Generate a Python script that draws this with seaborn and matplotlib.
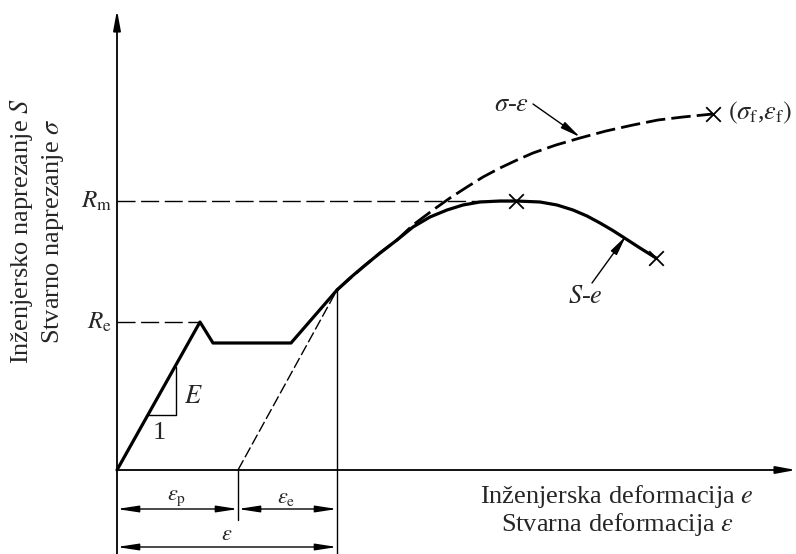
import numpy as np
import pandas as pd
import seaborn as sns
import matplotlib as mpl
from matplotlib import pyplot as plt

sns.set_style("white")
mpl.rcParams['font.family'] = ['Liberation Serif', 'DejaVu Serif']
mpl.rcParams['mathtext.fontset'] = 'stix'

# schematic values (arbitrary units, origin at the axis crossing)
elastic_x = [0, 83, 96, 174, 220]
elastic_y = [0, 148, 127, 127, 180]

# engineering curve S-e
eng_x = [220, 233, 246, 263, 280, 296, 313, 330, 346, 363, 383, 399,
         423, 440, 456, 470, 483, 495, 506, 523, 539]
eng_y = [180, 192, 203, 217, 230, 243, 253, 260, 265, 268, 269, 269,
         268, 265, 260, 254, 247, 240, 233, 222, 212]

# true curve sigma-epsilon
true_x = [220, 246, 263, 280, 296, 316, 333, 350, 366, 383, 400, 416,
          439, 463, 489, 516, 541, 566, 596]
true_y = [180, 203, 217, 230, 245, 260, 272, 283, 293, 302, 310, 317,
          325, 332, 339, 345, 350, 353, 356]

unload_x = [121, 220]
unload_y = [0, 180]

Rm = 269
Re = 148
eps_p = 121
eps_total = 220

marks_x = [399, 539, 596]
marks_y = [269, 212, 356]

fig = plt.figure(figsize=(7.96, 5.54), dpi=100)
ax = fig.add_axes([0, 0, 1, 1])
ax.set_xlim(-117, 679)
ax.set_ylim(-84, 470)
ax.axis('off')

k = 'black'

# reference lines Rm / Re
ax.plot([0, marks_x[0]], [Rm, Rm], color=k, lw=1.0, dashes=(13, 4))
ax.plot([0, elastic_x[1]], [Re, Re], color=k, lw=1.0, dashes=(13, 4))

# unloading line
sns.lineplot(x=unload_x, y=unload_y, ax=ax, color=k, lw=1.0,
             sort=False, estimator=None).lines[-1].set_dashes((8, 2.5))

# curves
ln = sns.lineplot(x=true_x, y=true_y, ax=ax, color=k, lw=2.0, sort=False, estimator=None).lines[-1]
ln.set_dashes((7, 2.2))
sns.lineplot(x=elastic_x, y=elastic_y, ax=ax, color=k, lw=2.3, sort=False, estimator=None)
sns.lineplot(x=eng_x, y=eng_y, ax=ax, color=k, lw=2.3, sort=False, estimator=None)

sns.scatterplot(x=marks_x, y=marks_y, ax=ax, marker='x', s=110, color=k, linewidth=1.3, zorder=5)

# axes with arrows
arr = dict(arrowstyle='-|>,head_length=1.2,head_width=0.22', lw=1.3, color=k,
           shrinkA=0, shrinkB=0)
ax.annotate('', xy=(0, 460), xytext=(0, -84), arrowprops=arr)
ax.annotate('', xy=(679, 0), xytext=(0, 0), arrowprops=arr)

# extension lines
ax.plot([eps_p, eps_p], [0, -50], color=k, lw=1.0)
ax.plot([eps_total, eps_total], [180, -84], color=k, lw=1.0)

# dimension arrows
darr = dict(arrowstyle='<|-|>,head_length=1.3,head_width=0.2', lw=1.0, color=k,
            shrinkA=0, shrinkB=0)
ax.annotate('', xy=(0, -39), xytext=(eps_p, -39), arrowprops=darr)
ax.annotate('', xy=(eps_p, -39), xytext=(eps_total, -39), arrowprops=darr)
ax.annotate('', xy=(0, -77), xytext=(eps_total, -77), arrowprops=darr)
ax.text(60, -28, r'$\varepsilon_\mathrm{p}$', fontsize=16, ha='center', va='center')
ax.text(169, -28, r'$\varepsilon_\mathrm{e}$', fontsize=16, ha='center', va='center')
ax.text(110, -65, r'$\varepsilon$', fontsize=16, ha='center', va='center')

# slope triangle
ax.plot([31, 59, 59], [55, 55, 103], color=k, lw=1.0)
ax.text(76, 73, r'$E$', fontsize=19, ha='center', va='center')
ax.text(42, 37, '1', fontsize=19, ha='center', va='center')

# Rm, Re
ax.text(-5, Rm, r'$R_\mathrm{m}$', fontsize=18, ha='right', va='center')
ax.text(-5, Re, r'$R_\mathrm{e}$', fontsize=18, ha='right', va='center')

# curve labels with pointer arrows
parr = dict(arrowstyle='-|>,head_length=1.2,head_width=0.22', lw=1.0, color=k,
            shrinkA=0, shrinkB=0)
ax.text(395, 365, r'$\sigma$-$\varepsilon$', fontsize=19, ha='center', va='center')
ax.annotate('', xy=(463, 333), xytext=(416, 366), arrowprops=parr)
ax.text(468, 173, r'$S$-$e$', fontsize=19, ha='center', va='center')
ax.annotate('', xy=(509, 234), xytext=(475, 187), arrowprops=parr)
ax.text(611, 357, r'$(\sigma_\mathrm{f}$,$\varepsilon_\mathrm{f})$', fontsize=19,
        ha='left', va='center')

# axis titles
ax.text(500, -27, r'Inženjerska deformacija $e$', fontsize=19, ha='center', va='center')
ax.text(500, -55, r'Stvarna deformacija $\varepsilon$', fontsize=19, ha='center', va='center')
ax.text(-95, 239, r'Inženjersko naprezanje $S$', fontsize=19, ha='center', va='center',
        rotation=90)
ax.text(-64, 239, r'Stvarno naprezanje $\sigma$', fontsize=19, ha='center', va='center',
        rotation=90)

fig.savefig('out.png', dpi=100)
